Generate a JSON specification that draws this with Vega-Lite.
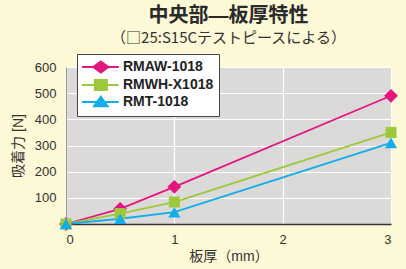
{
  "$schema": "https://vega.github.io/schema/vega-lite/v6.json",
  "width": 325,
  "height": 157,
  "autosize": {"type": "none"},
  "padding": {"left": 66, "top": 67, "right": 15, "bottom": 45},
  "background": "#fdf8d5",
  "title": {
    "text": "中央部—板厚特性",
    "subtitle": "（□25:S15Cテストピースによる）",
    "anchor": "middle",
    "frame": "group",
    "font": "Liberation Sans, Noto Sans CJK JP",
    "fontSize": 20,
    "fontWeight": "bold",
    "color": "#2a2a2a",
    "subtitleFont": "Noto Sans CJK JP",
    "subtitleFontSize": 15,
    "subtitleColor": "#333333",
    "subtitlePadding": 5,
    "offset": 8
  },
  "data": {
    "values": [
      {"t": 0, "f": 0, "series": "RMAW-1018"},
      {"t": 0.5, "f": 58, "series": "RMAW-1018"},
      {"t": 1, "f": 142, "series": "RMAW-1018"},
      {"t": 3, "f": 490, "series": "RMAW-1018"},
      {"t": 0, "f": 0, "series": "RMWH-X1018"},
      {"t": 0.5, "f": 40, "series": "RMWH-X1018"},
      {"t": 1, "f": 84, "series": "RMWH-X1018"},
      {"t": 3, "f": 350, "series": "RMWH-X1018"},
      {"t": 0, "f": 0, "series": "RMT-1018"},
      {"t": 0.5, "f": 20, "series": "RMT-1018"},
      {"t": 1, "f": 45, "series": "RMT-1018"},
      {"t": 3, "f": 310, "series": "RMT-1018"}
    ]
  },
  "encoding": {
    "x": {
      "field": "t",
      "type": "quantitative",
      "scale": {"domain": [0, 3], "nice": false},
      "axis": {
        "title": "板厚（mm）",
        "values": [0, 1, 2, 3],
        "format": "d",
        "grid": true,
        "gridColor": "#ffffff",
        "gridWidth": 1.2,
        "ticks": false,
        "domainColor": "#333333",
        "domainWidth": 1.5,
        "labelFont": "Liberation Sans",
        "labelFontSize": 13,
        "labelColor": "#333333",
        "labelPadding": 9,
        "titleFont": "Liberation Sans, Noto Sans CJK JP",
        "titleFontSize": 14,
        "titleFontWeight": "normal",
        "titleColor": "#333333",
        "titlePadding": 3
      }
    },
    "y": {
      "field": "f",
      "type": "quantitative",
      "scale": {"domain": [0, 600], "nice": false},
      "axis": {
        "title": "吸着力 [N]",
        "values": [0, 100, 200, 300, 400, 500, 600],
        "labelExpr": "datum.value === 0 ? '' : datum.label",
        "grid": true,
        "gridColor": "#ffffff",
        "gridWidth": 1.2,
        "ticks": false,
        "domainColor": "#9a9a9a",
        "domainWidth": 1,
        "labelFont": "Liberation Sans",
        "labelFontSize": 13,
        "labelColor": "#333333",
        "labelPadding": 10,
        "titleFont": "Liberation Sans, Noto Sans CJK JP",
        "titleFontSize": 14,
        "titleFontWeight": "normal",
        "titleColor": "#333333",
        "titlePadding": 9
      }
    },
    "color": {
      "field": "series",
      "type": "nominal",
      "sort": ["RMAW-1018", "RMWH-X1018", "RMT-1018"],
      "scale": {
        "domain": ["RMAW-1018", "RMWH-X1018", "RMT-1018"],
        "range": ["#e5147f", "#9cc83a", "#10aeea"]
      },
      "legend": {
        "title": null,
        "orient": "none",
        "legendX": 11,
        "legendY": -13,
        "fillColor": "#ffffff",
        "strokeColor": "#444444",
        "padding": 5,
        "symbolSize": 196,
        "symbolStrokeWidth": 2,
        "labelFont": "Liberation Sans",
        "labelFontSize": 14,
        "labelFontWeight": "bold",
        "labelColor": "#222222",
        "labelOffset": 25,
        "rowPadding": -4,
        "encode": {
          "symbols": {
            "update": {
              "shape": {"signal": "datum.value === 'RMAW-1018' ? 'M-1.14,0H4.1M1.55,-0.79L2.62,0L1.55,0.79L0.48,0Z' : datum.value === 'RMWH-X1018' ? 'M-1.14,0H4.1M0.69,-0.71H2.41V0.71H0.69Z' : 'M-1.14,0H4.1M1.55,-0.75L2.52,0.6L0.58,0.6Z'"},
              "stroke": {"scale": "color", "field": "value"},
              "fill": {"scale": "color", "field": "value"},
              "strokeWidth": {"value": 2},
              "opacity": {"value": 1}
            }
          }
        }
      }
    }
  },
  "layer": [
    {
      "mark": {"type": "line", "strokeWidth": 1.8},
      "encoding": {}
    },
    {
      "transform": [{"filter": "datum.series === 'RMAW-1018'"}],
      "mark": {"type": "point", "filled": true, "opacity": 1, "shape": "diamond", "size": 190},
      "encoding": {}
    },
    {
      "transform": [{"filter": "datum.series === 'RMWH-X1018'"}],
      "mark": {"type": "point", "filled": true, "opacity": 1, "shape": "square", "size": 120},
      "encoding": {}
    },
    {
      "transform": [{"filter": "datum.series === 'RMT-1018'"}],
      "mark": {"type": "point", "filled": true, "opacity": 1, "shape": "triangle-up", "size": 150},
      "encoding": {}
    }
  ],
  "config": {
    "view": {"fill": "#dcd9d9", "stroke": null}
  }
}
